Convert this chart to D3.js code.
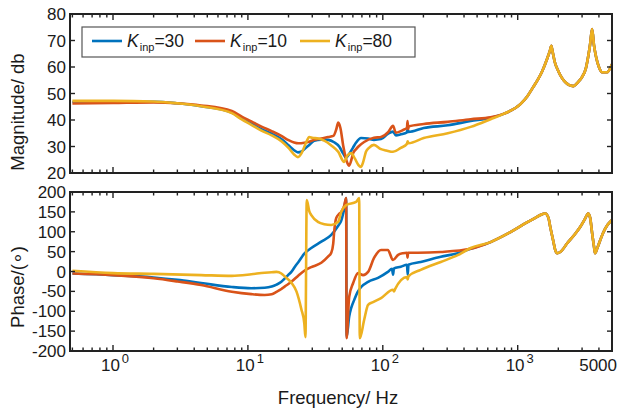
<!DOCTYPE html>
<html>
<head>
<meta charset="utf-8">
<script src="https://cdn.jsdelivr.net/npm/d3@7"></script>
<style>
  body { margin: 0; background: #fff; }
  svg { display: block; }
  text { font-family: "Liberation Sans", Arial, sans-serif; fill: #1a1a1a; }
</style>
</head>
<body>
<svg id="chart" width="621" height="414"></svg>
<script>
// Bode plot of the impedance for three values of the gain K_inp
const seriesKinp   = [30, 10, 80];
const seriesColors = ["#0072BD", "#D95319", "#EDB120"];

const magTicks   = [20, 30, 40, 50, 60, 70, 80];
const phaseTicks = [-200, -150, -100, -50, 0, 50, 100, 150, 200];
const freqTicks  = [1, 10, 100, 1000, 5000];
const freqTickBase = ["10", "10", "10", "10", "5000"];
const freqTickExp  = ["0", "1", "2", "3", ""];

// magnitude above ~700 Hz, common to all three gains  [Hz, dB]
const magHigh = [
  [785, 42.3], [1047, 46.0], [1180, 49.0], [1306, 52.5], [1420, 55.5], [1522, 58.5],
  [1650, 63.0], [1740, 66.5], [1774, 68.0], [1810, 66.0], [1880, 62.0], [1998, 58.5],
  [2250, 54.3], [2578, 52.8], [2800, 54.3], [3004, 56.3], [3200, 59.5], [3326, 63.8],
  [3440, 68.5], [3559, 74.3], [3680, 68.0], [3811, 63.8], [4000, 60.0], [4220, 58.0],
  [4594, 58.0], [5000, 61.0]
];

// magnitude [Hz, dB]
const magK30 = [
  [0.5, 46.8], [1.0, 46.9], [2.0, 46.9], [3.0, 46.3], [4.5, 45.2], [7.6, 42.8], [9.0, 40.5],
  [10.6, 38.6], [12.6, 36.5], [15.0, 34.8], [17.7, 32.8], [20.0, 30.5], [22.0, 28.6],
  [23.5, 27.8], [25.0, 28.1], [26.5, 29.2], [28.5, 30.6], [31.0, 32.2], [35.0, 32.6],
  [39.4, 32.5], [43.6, 31.6], [47.5, 30.0], [51.0, 27.2], [53.5, 25.7], [56.0, 27.0],
  [60.0, 29.5], [63.4, 31.5], [69.0, 33.2], [77.8, 33.0], [86.0, 32.5], [97.0, 32.8],
  [109, 34.8], [119, 35.6], [125, 34.2], [136, 34.6], [151, 35.3], [153, 36.6], [155, 35.5],
  [201, 37.0], [303, 38.0], [448, 39.6], [629, 40.8]
];
const magK10 = [
  [0.5, 46.2], [1.0, 46.4], [2.0, 46.6], [3.0, 46.3], [4.5, 45.5], [7.6, 43.4], [9.0, 41.3],
  [10.6, 39.5], [12.6, 37.5], [15.0, 35.8], [17.7, 34.0], [20.0, 32.4], [22.0, 31.5],
  [23.7, 31.2], [26.2, 31.4], [28.5, 31.8], [31.1, 32.5], [35.0, 33.0], [39.4, 33.6],
  [43.0, 34.0], [45.2, 36.5], [46.7, 39.0], [48.5, 37.0], [51.0, 30.0], [54.4, 24.0],
  [56.3, 22.8], [58.5, 25.0], [60.3, 27.5], [63.4, 29.0], [66.0, 30.0], [72.7, 31.7],
  [86.0, 33.3], [97.0, 33.6], [110, 35.5], [119, 37.8], [125, 35.2], [136, 35.8],
  [141, 36.2], [151, 37.0], [152.5, 39.6], [154, 36.6], [156, 37.6], [201, 38.5],
  [303, 39.3], [448, 40.3], [629, 41.0]
];
const magK80 = [
  [0.5, 47.2], [1.0, 47.2], [2.0, 47.0], [3.0, 46.3], [4.5, 45.2], [7.6, 42.6], [9.0, 40.2],
  [10.6, 38.2], [12.6, 36.0], [15.0, 34.2], [17.7, 32.0], [20.0, 29.5], [22.0, 27.0],
  [23.5, 26.0], [25.0, 27.5], [27.0, 31.5], [28.5, 33.6], [30.0, 33.3], [33.3, 33.0],
  [36.8, 32.2], [41.5, 30.4], [46.7, 28.0], [51.7, 24.2], [54.5, 26.5], [58.3, 27.5],
  [62.0, 25.5], [66.0, 23.0], [69.0, 22.3], [71.4, 24.0], [75.0, 28.0], [79.0, 29.5],
  [86.0, 30.6], [97.0, 29.0], [106, 28.5], [119, 28.0], [136, 29.5], [151, 31.0],
  [153, 32.0], [155, 31.2], [201, 33.2], [303, 35.0], [448, 37.4], [629, 40.3]
];

// phase above ~400 Hz, common to all three gains  [Hz, deg]
const phaseHigh = [
  [629, 74], [883, 99], [1180, 124], [1350, 135], [1470, 142], [1601, 146], [1690, 135],
  [1743, 112], [1840, 75], [1898, 54], [1964, 46], [2067, 49], [2329, 71], [2670, 95],
  [2904, 112], [3160, 133], [3326, 146], [3444, 135], [3559, 97], [3680, 62], [3746, 46],
  [3880, 58], [4293, 97], [4650, 118], [5000, 130]
];

// phase [Hz, deg]
const phaseK30 = [
  [0.5, -5], [1.0, -9], [2.0, -15], [3.0, -21], [4.5, -29], [7.6, -39], [10.6, -42],
  [13.3, -41], [15.0, -38], [16.3, -33], [17.7, -26], [18.7, -18], [20.0, -8], [21.0, -1],
  [22.5, 14], [23.7, 24], [26.2, 45], [29.5, 59], [35.0, 75], [41.5, 92], [46.7, 115],
  [49.2, 128], [51.7, 158], [53.5, 185], [53.9, -165], [56.3, -114], [58.5, -90],
  [61.3, -72], [65.0, -52], [69.1, -39], [77.8, -26], [92.2, -16], [109, -1], [117, 7],
  [119, -8], [121, 8], [136, 12], [151, 17], [153, -8], [155, 17], [191, 24], [269, 37],
  [359, 46], [448, 57]
];
const phaseK10 = [
  [0.5, -5], [1.0, -9], [2.0, -17], [3.0, -25], [4.5, -34], [7.6, -51], [10.6, -57],
  [13.3, -59], [15.0, -57], [16.3, -51], [17.7, -44], [18.7, -38], [21.0, -26], [23.7, -10],
  [26.2, 2], [29.5, 11], [35.0, 22], [39.4, 38], [41.5, 47], [42.9, 70], [43.6, 100],
  [45.2, 135], [47.5, 145], [49.2, 150], [51.7, 165], [53.5, 185], [53.9, -168],
  [56.3, -64], [60.3, -29], [65.6, -4], [71.4, -9], [77.8, -1], [86.1, 34], [97.0, 54],
  [109, 54], [119, 29], [130, 42], [141, 46], [151, 47], [152.5, 35], [154, 47], [182, 47],
  [269, 49], [448, 57]
];
const phaseK80 = [
  [0.5, 2], [1.0, -4], [2.0, -6], [4.5, -9], [7.6, -11], [10.6, -7], [13.3, -3], [15.0, -2],
  [16.3, -1], [17.7, -5], [18.7, -12], [21.0, -28], [22.9, -50], [24.9, -95], [26.2, -131],
  [26.7, -165], [27.3, 180], [28.5, 152], [29.5, 142], [33.3, 124], [36.8, 119], [41.5, 117],
  [46.7, 125], [49.2, 150], [53.5, 167], [63.4, 175], [66.8, 185], [67.5, -168], [72.7, -122],
  [77.8, -84], [84.7, -77], [97.0, -67], [119, -46], [121, -50], [123, -45], [151, -14],
  [153, -20], [155, -12], [191, 4], [269, 24], [359, 41], [448, 59]
];

const magSeries   = [magK30.concat(magHigh), magK10.concat(magHigh), magK80.concat(magHigh)];
const phaseSeries = [phaseK30.concat(phaseHigh), phaseK10.concat(phaseHigh), phaseK80.concat(phaseHigh)];

const svg = d3.select("#chart");
const left = 70, right = 612;
const panels = [
  { top: 14,  bottom: 173, domain: [20, 80],    ticks: magTicks,   data: magSeries,   label: "Magnitude/ db", labelY: 112 },
  { top: 192, bottom: 351, domain: [-200, 200], ticks: phaseTicks, data: phaseSeries, label: "Phase/(\u2218)", labelY: 287 }
];

const x = d3.scaleLog().domain([0.48, 5000]).range([left, right]);

// minor ticks: 2..9 of every decade inside the domain
const minorTicks = [];
for (let e = -1; e <= 3; e++) {
  for (let m = 2; m <= 9; m++) {
    const v = m * Math.pow(10, e);
    if (v > 0.48 && v < 5000) minorTicks.push(v);
  }
}
const majorX = [1, 10, 100, 1000];

panels.forEach((p, pi) => {
  const y = d3.scaleLinear().domain(p.domain).range([p.bottom, p.top]);
  const g = svg.append("g");
  const clipId = "clip" + pi;
  svg.append("clipPath").attr("id", clipId)
    .append("rect").attr("x", left).attr("y", p.top).attr("width", right - left).attr("height", p.bottom - p.top);

  const line = d3.line().x(d => x(d[0])).y(d => y(d[1])).curve(d3.curveMonotoneX);
  p.data.forEach((s, i) => {
    g.append("path").datum(s)
      .attr("d", line)
      .attr("fill", "none")
      .attr("stroke", seriesColors[i])
      .attr("stroke-width", 2.6)
      .attr("stroke-linejoin", "round")
      .attr("clip-path", `url(#${clipId})`);
  });

  // inward ticks on all four sides
  const axG = svg.append("g").attr("stroke", "#222").attr("stroke-width", 1.4);
  const tickX = (vals, len) => vals.forEach(v => {
    axG.append("line").attr("x1", x(v)).attr("x2", x(v)).attr("y1", p.bottom).attr("y2", p.bottom - len);
    axG.append("line").attr("x1", x(v)).attr("x2", x(v)).attr("y1", p.top).attr("y2", p.top + len);
  });
  tickX(majorX, 6);
  tickX(minorTicks, 3.5);
  p.ticks.forEach(v => {
    axG.append("line").attr("x1", left).attr("x2", left + 5).attr("y1", y(v)).attr("y2", y(v));
    axG.append("line").attr("x1", right).attr("x2", right - 5).attr("y1", y(v)).attr("y2", y(v));
  });

  svg.append("rect")
    .attr("x", left).attr("y", p.top)
    .attr("width", right - left).attr("height", p.bottom - p.top)
    .attr("fill", "none").attr("stroke", "#222").attr("stroke-width", 2);

  // y tick labels
  svg.append("g").selectAll("text").data(p.ticks).join("text")
    .attr("x", left - 4).attr("y", d => y(d)).attr("dy", "0.36em")
    .attr("text-anchor", "end").attr("font-size", 17)
    .text(d => d);

  // y axis title
  svg.append("text")
    .attr("transform", `translate(24,${p.labelY}) rotate(-90)`)
    .attr("text-anchor", "middle").attr("font-size", 18.5)
    .text(p.label);
});

// frequency tick labels under the phase panel
const xl = svg.append("g");
freqTicks.forEach((v, i) => {
  const t = xl.append("text").attr("y", 371).attr("font-size", 17);
  if (freqTickExp[i]) {
    t.attr("x", x(v) + 2).attr("text-anchor", "middle");
    t.append("tspan").text(freqTickBase[i]);
    t.append("tspan").attr("dx", 2).attr("dy", -8).attr("font-size", 13).text(freqTickExp[i]);
  } else {
    t.attr("x", x(v) + 5).attr("text-anchor", "end").text(freqTickBase[i]);
  }
});

svg.append("text")
  .attr("x", 338).attr("y", 404)
  .attr("text-anchor", "middle").attr("font-size", 18.5)
  .text("Frequency/ Hz");

// legend
const lg = svg.append("g");
lg.append("rect").attr("x", 82).attr("y", 27).attr("width", 333).attr("height", 30)
  .attr("fill", "#fff").attr("stroke", "#555").attr("stroke-width", 1.2);
const legendX = [92, 195, 300];
seriesKinp.forEach((k, i) => {
  const lx = legendX[i];
  lg.append("line").attr("x1", lx).attr("x2", lx + 30).attr("y1", 41).attr("y2", 41)
    .attr("stroke", seriesColors[i]).attr("stroke-width", 2.6);
  const t = lg.append("text").attr("x", lx + 35).attr("y", 47).attr("font-size", 17.5);
  t.append("tspan").attr("font-style", "italic").text("K");
  t.append("tspan").attr("font-size", 11).attr("dy", 4).attr("dx", 1).text("inp");
  t.append("tspan").attr("dy", -4).text("=" + k);
});
</script>
</body>
</html>
